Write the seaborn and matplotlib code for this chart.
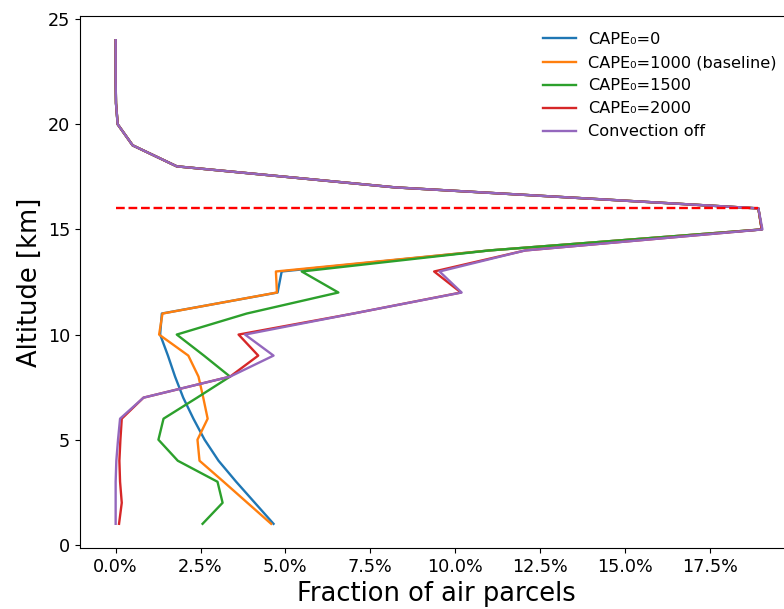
#!/usr/bin/env python3

import matplotlib
matplotlib.use('Agg')
import matplotlib.pyplot as plt
from matplotlib.ticker import PercentFormatter
import numpy as np
import pandas as pd
import seaborn as sns

# altitude levels [km]
altitude = list(range(1, 25))

# fractions of air parcels in percent
# above 15 km all runs share the same profile
upper = [19.03, 18.93, 8.23, 1.80, 0.50, 0.06, 0.01, 0.0, 0.0, 0.0]

cape_0 = [4.65, 4.10, 3.55, 3.03, 2.62, 2.29, 1.99, 1.75, 1.54, 1.31,
          1.36, 4.77, 4.89, 11.0] + upper
cape_1000 = [4.58, 3.88, 3.18, 2.47, 2.41, 2.71, 2.58, 2.44, 2.14, 1.28,
             1.38, 4.75, 4.72, 11.0] + upper
cape_1500 = [2.56, 3.15, 3.00, 1.83, 1.26, 1.41, 2.40, 3.37, 2.60, 1.80,
             3.86, 6.56, 5.48, 11.0] + upper
cape_2000 = [0.10, 0.18, 0.13, 0.11, 0.14, 0.18, 0.82, 3.37, 4.20, 3.62,
             7.00, 10.17, 9.38, 12.06] + upper
conv_off = [0.0, 0.0, 0.0, 0.02, 0.07, 0.13, 0.82, 3.37, 4.65, 3.81,
            7.00, 10.19, 9.54, 12.06, 19.05] + upper[1:]

labels = ['CAPE\u2080=0', 'CAPE\u2080=1000 (baseline)', 'CAPE\u2080=1500',
          'CAPE\u2080=2000', 'Convection off']
series = [cape_0, cape_1000, cape_1500, cape_2000, conv_off]

# level marked with the dashed line
marker_alt = 16
marker_frac = 18.93

frames = []
for lab, vals in zip(labels, series):
    frames.append(pd.DataFrame({'altitude': altitude,
                                'fraction': np.array(vals) / 100.0,
                                'run': lab}))
df = pd.concat(frames, ignore_index=True)

fig = plt.figure(figsize=(7.84, 6.09), dpi=100)
ax = fig.add_axes([80 / 784, 61 / 609, 713 / 784, 532 / 609])

sns.lineplot(data=df, x='fraction', y='altitude', hue='run', hue_order=labels,
             palette='tab10', sort=False, estimator=None, linewidth=1.7, ax=ax)
sns.lineplot(x=[0.0, marker_frac / 100.0], y=[marker_alt, marker_alt],
             color='r', linestyle='--', linewidth=1.7, ax=ax)

ax.set_xlim(-0.0105, 0.1995)
ax.xaxis.set_major_locator(plt.MultipleLocator(0.025))
ax.xaxis.set_major_formatter(PercentFormatter(xmax=1.0, decimals=1))
ax.yaxis.set_major_locator(plt.MultipleLocator(5))
ax.set_xlabel('Fraction of air parcels', fontsize=18.5)
ax.set_ylabel('Altitude [km]', fontsize=18.5)
ax.tick_params(labelsize=12.7)
ax.legend(frameon=False, fontsize=11.6, loc='upper right', labelspacing=0.5,
          borderaxespad=0.6)

plt.savefig('out.png', dpi=100)
print("Saved out.png")
